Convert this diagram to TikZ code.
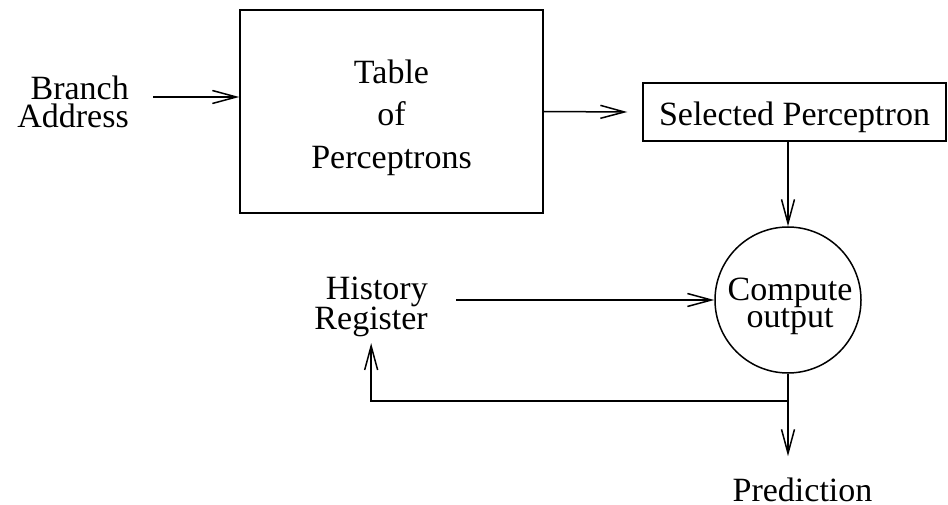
\documentclass[tikz,border=0pt]{standalone}
\usepackage{fontspec}
\setmainfont{Liberation Serif}
\usetikzlibrary{arrows.meta}

\tikzset{
  wire/.style={line width=1.5pt},
  arr/.style={wire, -{Straight Barb[length=24pt,width=13pt,line width=1.5pt]}},
  boxed/.style={draw, line width=1.5pt, rectangle, inner sep=0pt},
  label/.style={inner sep=0pt},
}
\newcommand{\txt}[1]{\fontsize{34}{#1}\selectfont}

\begin{document}
\begin{tikzpicture}[x=1pt, y=-1pt]
  \useasboundingbox (0,0) rectangle (948,505);

  % inputs and blocks
  \node[label, align=right, anchor=east, font=\txt{28}] (branch) at (129,102) {Branch\\Address};
  \node[boxed, minimum width=303pt, minimum height=203pt] (tbl) at (391.5,111.5) {};
  \node[label, align=center, font=\txt{42.5}] (tbltext) at (391.5,117.6) {Table\\of\\Perceptrons};
  \node[boxed, minimum width=303pt, minimum height=58pt, font=\txt{34},
        text height=30pt, text depth=2.6pt] (sel) at (794.5,112) {Selected Perceptron};
  \node[draw, circle, line width=1.5pt, minimum size=146pt, inner sep=0pt] (cmp) at (788,300) {};
  \node[label, align=center, font=\txt{27}] (cmptext) at (790,306) {Compute\\output};
  \node[label, align=right, anchor=east, font=\txt{30}] (hist) at (428,307) {History\\Register};
  \node[label, anchor=base, font=\txt{34}] (pred) at (802.5,501) {Prediction};

  % connectors
  \draw[arr] ([xshift=24pt,yshift=5pt]branch.east) -- ([yshift=5pt]branch.east -| tbl.west);
  \draw[arr] (tbl.east) -- ([xshift=-15pt]sel.west);
  \draw[arr] (sel.south -| cmp.north) -- (cmp.north);
  \draw[arr] ([xshift=28pt]hist.east |- cmp.west) -- (cmp.west);
  \coordinate (split) at (cmp.south |- 0,401);
  \draw[arr] (split) -| ([yshift=-6pt]hist.south);
  \draw[arr, shorten >=21pt] (cmp.south) -- (cmp.south |- pred.north);
\end{tikzpicture}
\end{document}
